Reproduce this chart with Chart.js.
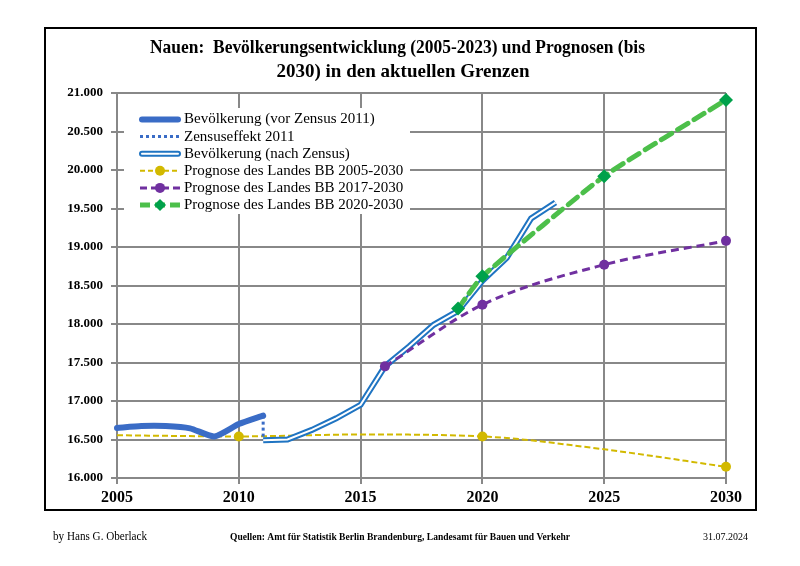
<!DOCTYPE html>
<html>
<head>
<meta charset="utf-8">
<script src="https://cdn.jsdelivr.net/npm/chart.js@4.4.1/dist/chart.umd.min.js"></script>
<style>
  body { margin: 0; background: #fff; }
  canvas { display: block; }
</style>
</head>
<body>
<canvas id="chart" width="800" height="566"></canvas>
<script>
// Einwohnerzahlen
const yearsBefore = [2005, 2006, 2007, 2008, 2009, 2010, 2011];
const popBefore = [16650, 16675, 16675, 16645, 16540, 16700, 16810];

const yearsCensus = [2011, 2011];
const popCensus = [16810, 16490];

const yearsAfter = [2011, 2012, 2013, 2014, 2015, 2016, 2017, 2018, 2019, 2020, 2021, 2022, 2023];
const popAfter = [16490, 16500, 16625, 16775, 16950, 17450, 17710, 17990, 18170, 18560, 18860, 19370, 19577];

const yearsProg05 = [2005, 2010, 2015, 2020, 2025, 2030];
const prog05 = [16555, 16540, 16565, 16540, 16372, 16145];

const yearsProg17 = [2016, 2020, 2025, 2030];
const prog17 = [17450, 18250, 18770, 19080];

const yearsProg20 = [2019, 2020, 2025, 2030];
const prog20 = [18200, 18620, 19920, 20910];

const yTicks = [16000, 21000, 500];
const xTicks = [2005, 2030, 5];

const legendLabels = [
  "Bevölkerung (vor Zensus 2011)",
  "Zensuseffekt 2011",
  "Bevölkerung (nach Zensus)",
  "Prognose des Landes BB 2005-2030",
  "Prognose des Landes BB 2017-2030",
  "Prognose des Landes BB 2020-2030",
];

const pts = (xs, ys) => xs.map((x, i) => ({ x: x, y: ys[i] }));

const BLUE = "#3a6cc6";
const BLUE2 = "#1f74c2";
const YELLOW = "#d2b900";
const PURPLE = "#7030a0";
const GREEN = "#4cbf4a";
const GREEN_MK = "#00a14b";

const fmt = (v) => String(v).replace(/\B(?=(\d{3})+(?!\d))/g, ".");

const serif = "'Liberation Serif', 'DejaVu Serif', serif";

const decor = {
  id: "decor",
  beforeDraw(chart) {
    const ctx = chart.ctx;
    ctx.save();
    ctx.fillStyle = "#fff";
    ctx.fillRect(0, 0, chart.width, chart.height);
    ctx.restore();
  },
  beforeDatasetsDraw(chart) {
    // white legend box hides the grid behind it
    const ctx = chart.ctx;
    ctx.save();
    ctx.fillStyle = "#fff";
    ctx.fillRect(124, 108, 286, 106);
    ctx.restore();
  },
  afterDraw(chart) {
    const ctx = chart.ctx;
    ctx.save();
    // frame
    ctx.strokeStyle = "#000";
    ctx.lineWidth = 2;
    ctx.strokeRect(45, 28, 711, 482);

    // title
    fitText(ctx, "Nauen:  Bevölkerungsentwicklung (2005-2023) und Prognosen (bis", 150, 48, 495, "bold 19px " + serif);
    ctx.fillStyle = "#000";
    ctx.textAlign = "center";
    ctx.textBaseline = "middle";
    ctx.font = "bold 19px " + serif;
    ctx.fillText("2030) in den aktuellen Grenzen", 403, 72);

    // legend
    const x0 = 140, x1 = 180, tx = 184;
    ctx.textAlign = "left";
    ctx.textBaseline = "middle";
    ctx.font = "15px " + serif;
    legendLabels.forEach((lab, i) => {
      const y = 119.5 + i * 17.1;
      ctx.save();
      ctx.lineCap = "butt";
      if (i === 0) {
        ctx.strokeStyle = BLUE; ctx.lineWidth = 6; ctx.lineCap = "round";
        line(ctx, x0 + 2, x1 - 2, y);
      } else if (i === 1) {
        ctx.strokeStyle = BLUE; ctx.lineWidth = 3; ctx.setLineDash([3, 3]);
        line(ctx, x0, x1, y);
      } else if (i === 2) {
        ctx.lineCap = "round";
        ctx.strokeStyle = BLUE2; ctx.lineWidth = 6;
        line(ctx, x0 + 2, x1 - 2, y);
        ctx.strokeStyle = "#fff"; ctx.lineWidth = 2;
        line(ctx, x0 + 2, x1 - 2, y);
      } else if (i === 3) {
        ctx.strokeStyle = YELLOW; ctx.lineWidth = 2; ctx.setLineDash([5, 3]);
        line(ctx, x0, x1, y);
        dot(ctx, (x0 + x1) / 2, y, 5, YELLOW);
      } else if (i === 4) {
        ctx.strokeStyle = PURPLE; ctx.lineWidth = 3; ctx.setLineDash([7, 4]);
        line(ctx, x0, x1, y);
        dot(ctx, (x0 + x1) / 2, y, 5, PURPLE);
      } else {
        ctx.strokeStyle = GREEN; ctx.lineWidth = 5; ctx.setLineDash([10, 5]);
        line(ctx, x0, x1, y);
        diamond(ctx, (x0 + x1) / 2, y, 6, GREEN_MK);
      }
      ctx.restore();
      ctx.fillStyle = "#000";
      ctx.fillText(lab, tx, y);
    });

    // footer
    fitText(ctx, "by Hans G. Oberlack", 53, 537, 94, "12px " + serif);
    fitText(ctx, "Quellen: Amt für Statistik Berlin Brandenburg, Landesamt für Bauen und Verkehr", 230, 537, 340, "bold 11px " + serif);
    fitText(ctx, "31.07.2024", 703, 537, 45, "11px " + serif);
    ctx.restore();
  },
};

function line(ctx, a, b, y) {
  ctx.beginPath(); ctx.moveTo(a, y); ctx.lineTo(b, y); ctx.stroke();
}
function dot(ctx, x, y, r, c) {
  ctx.setLineDash([]);
  ctx.beginPath(); ctx.arc(x, y, r, 0, Math.PI * 2); ctx.fillStyle = c; ctx.fill();
}
function diamond(ctx, x, y, r, c) {
  ctx.setLineDash([]);
  ctx.beginPath();
  ctx.moveTo(x, y - r); ctx.lineTo(x + r, y); ctx.lineTo(x, y + r); ctx.lineTo(x - r, y);
  ctx.closePath(); ctx.fillStyle = c; ctx.fill();
}
function fitText(ctx, s, x, y, w, font) {
  ctx.save();
  ctx.font = font;
  ctx.fillStyle = "#000";
  ctx.textAlign = "left";
  ctx.textBaseline = "middle";
  const m = ctx.measureText(s).width;
  ctx.translate(x, y);
  ctx.scale(w / m, 1);
  ctx.fillText(s, 0, 0);
  ctx.restore();
}

new Chart(document.getElementById("chart"), {
  type: "line",
  data: {
    datasets: [
      {
        data: pts(yearsProg20, prog20),
        borderColor: GREEN, borderWidth: 5, borderDash: [12, 7], borderCapStyle: "round",
        pointStyle: "rectRot", pointRadius: 7, pointBackgroundColor: GREEN_MK, pointBorderWidth: 0,
        tension: 0.15, order: 1, clip: 10,
      },
      {
        data: pts(yearsProg17, prog17),
        borderColor: PURPLE, borderWidth: 3, borderDash: [8, 5],
        pointRadius: 5, pointBackgroundColor: PURPLE, pointBorderWidth: 0,
        cubicInterpolationMode: "monotone", order: 2, clip: 10,
      },
      {
        data: pts(yearsAfter, popAfter),
        borderColor: "#fff", borderWidth: 2, pointRadius: 0, order: 3,
      },
      {
        data: pts(yearsAfter, popAfter),
        borderColor: BLUE2, borderWidth: 6, pointRadius: 0, order: 4,
      },
      {
        data: pts(yearsCensus, popCensus),
        borderColor: BLUE, borderWidth: 3, borderDash: [3, 3], pointRadius: 0, order: 5,
      },
      {
        data: pts(yearsBefore, popBefore),
        borderColor: BLUE, borderWidth: 6, borderCapStyle: "round", pointRadius: 0,
        tension: 0.2, order: 6, clip: 10,
      },
      {
        data: pts(yearsProg05, prog05),
        borderColor: YELLOW, borderWidth: 2, borderDash: [6, 3],
        pointRadius: [0, 5, 0, 5, 0, 5], pointBackgroundColor: YELLOW, pointBorderWidth: 0,
        cubicInterpolationMode: "monotone", order: 7, clip: 10,
      },
    ],
  },
  options: {
    responsive: false,
    animation: false,
    devicePixelRatio: 1,
    layout: { padding: { left: 44, right: 74, top: 93, bottom: 58 } },
    plugins: { legend: { display: false }, tooltip: { enabled: false } },
    scales: {
      x: {
        type: "linear",
        min: xTicks[0], max: xTicks[1],
        afterFit: (s) => { s.height = 30; },
        grid: { color: "#888", lineWidth: 2, tickLength: 6 },
        border: { color: "#888", width: 2 },
        ticks: {
          stepSize: xTicks[2], color: "#000", padding: 4,
          font: { family: serif, size: 16, weight: "bold" },
          callback: (v) => String(v),
        },
      },
      y: {
        min: yTicks[0], max: yTicks[1],
        afterFit: (s) => { s.width = 73; },
        grid: { color: "#888", lineWidth: 2, tickLength: 6 },
        border: { color: "#888", width: 2 },
        ticks: {
          stepSize: yTicks[2], color: "#000", padding: 8,
          font: { family: serif, size: 13, weight: "bold" },
          callback: (v) => fmt(v),
        },
      },
    },
  },
  plugins: [decor],
});
</script>
</body>
</html>
